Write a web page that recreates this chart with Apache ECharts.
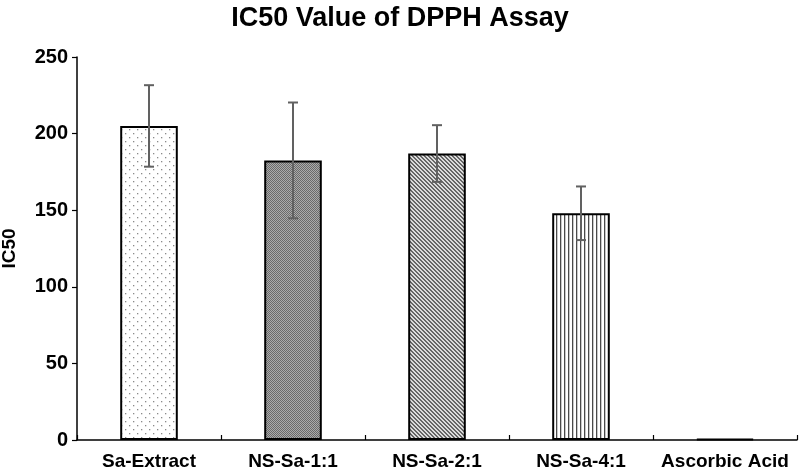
<!DOCTYPE html>
<html>
<head>
<meta charset="utf-8">
<script src="https://cdn.jsdelivr.net/npm/echarts@6/dist/echarts.min.js"></script>
<style>html,body{margin:0;padding:0;background:#fff}#c{width:800px;height:473px}</style>
</head>
<body>
<div id="c"></div>
<script>
const categories = ['Sa-Extract', 'NS-Sa-1:1', 'NS-Sa-2:1', 'NS-Sa-4:1', 'Ascorbic Acid'];
const ic50Values = [205, 182.5, 187, 148, 0.8];
const errorValues = [26.6, 37.8, 18.5, 17.5, 0];
const yTicks = [0, 50, 100, 150, 200, 250];

function makePattern(kind) {
  const c = document.createElement('canvas');
  const ctx = c.getContext('2d');
  if (kind === 'dots') {
    c.width = 8; c.height = 8;
    ctx.fillStyle = '#ffffff'; ctx.fillRect(0, 0, 8, 8);
    ctx.fillStyle = '#8a8a8a';
    ctx.fillRect(1, 1, 1.3, 1.3);
    ctx.fillRect(5, 5, 1.3, 1.3);
  } else if (kind === 'checker') {
    c.width = 2; c.height = 2;
    ctx.fillStyle = '#ababab'; ctx.fillRect(0, 0, 2, 2);
    ctx.fillStyle = '#6a6a6a';
    ctx.fillRect(0, 0, 1, 1); ctx.fillRect(1, 1, 1, 1);
  } else if (kind === 'diag') {
    c.width = 4; c.height = 4;
    ctx.fillStyle = '#dcdcdc'; ctx.fillRect(0, 0, 4, 4);
    ctx.fillStyle = '#666666';
    for (let i = 0; i < 4; i++) { ctx.fillRect(i, i, 1, 1); ctx.fillRect((i + 1) % 4, i, 1, 1); }
  } else if (kind === 'vert') {
    c.width = 4; c.height = 4;
    ctx.fillStyle = '#ffffff'; ctx.fillRect(0, 0, 4, 4);
    ctx.fillStyle = '#4a4a4a'; ctx.fillRect(0, 0, 1.3, 4);
  } else {
    c.width = 2; c.height = 2;
    ctx.fillStyle = '#ffffff'; ctx.fillRect(0, 0, 2, 2);
  }
  return { image: c, repeat: 'repeat' };
}
const patterns = ['dots', 'checker', 'diag', 'vert', 'plain'];

const chart = echarts.init(document.getElementById('c'));
const font = '"Liberation Sans", Arial, sans-serif';
chart.setOption({
  animation: false,
  title: {
    text: 'IC50 Value of DPPH Assay', left: 'center', top: 0,
    textStyle: { fontFamily: font, fontWeight: 'bold', fontSize: 27, color: '#000' }
  },
  grid: { left: 77, right: 3, top: 57, bottom: 33, containLabel: false, outerBoundsMode: 'none' },
  xAxis: {
    type: 'category', data: categories,
    axisLine: { lineStyle: { color: '#000', width: 1.5 } },
    axisTick: { show: true, alignWithLabel: false, length: 5, inside: true, lineStyle: { color: '#000', width: 1.2 } },
    axisLabel: { interval: 0, hideOverlap: false, fontFamily: font, fontWeight: 'bold', fontSize: 19, color: '#000', margin: 12 }
  },
  yAxis: {
    type: 'value', min: 0, max: 250, interval: 50,
    name: 'IC50', nameLocation: 'middle', nameGap: 58,
    nameTextStyle: { fontFamily: font, fontWeight: 'bold', fontSize: 19, color: '#000' },
    axisLine: { show: true, lineStyle: { color: '#000', width: 1.5 } },
    axisTick: { show: true, length: 5, lineStyle: { color: '#000', width: 1.2 } },
    splitLine: { show: false },
    axisLabel: { fontFamily: font, fontWeight: 'bold', fontSize: 20, color: '#000', margin: 9,
      formatter: v => yTicks.includes(v) ? String(v) : '' }
  },
  series: [
    {
      type: 'bar', barWidth: '40%',
      data: ic50Values.map((v, i) => ({
        value: v,
        itemStyle: { color: makePattern(patterns[i]), borderColor: '#000', borderWidth: 2 }
      }))
    },
    {
      type: 'custom',
      data: ic50Values.map((v, i) => [i, v - errorValues[i], v + errorValues[i]]),
      renderItem: function (params, api) {
        if (errorValues[api.value(0)] === 0) return null;
        const lo = api.coord([api.value(0), api.value(1)]);
        const hi = api.coord([api.value(0), api.value(2)]);
        const hw = 5;
        const st = { stroke: '#616161', lineWidth: 2 };
        return {
          type: 'group', children: [
            { type: 'line', shape: { x1: hi[0], y1: hi[1], x2: lo[0], y2: lo[1] }, style: st },
            { type: 'line', shape: { x1: hi[0] - hw, y1: hi[1], x2: hi[0] + hw, y2: hi[1] }, style: st },
            { type: 'line', shape: { x1: lo[0] - hw, y1: lo[1], x2: lo[0] + hw, y2: lo[1] }, style: st }
          ]
        };
      },
      z: 10
    }
  ]
});
</script>
</body>
</html>
